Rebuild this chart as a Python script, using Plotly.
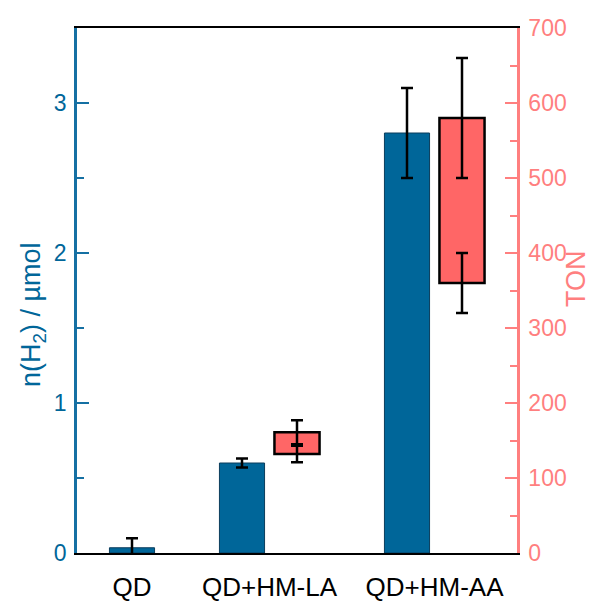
import plotly.graph_objects as go

categories = ["QD", "QD+HM-LA", "QD+HM-AA"]
group_pos = [0.5, 1.75, 3.25]

# n(H2) / µmol
h2_values = [0.035, 0.60, 2.80]
h2_errors = [0.063, 0.03, 0.30]

# TON floating box (only for HM samples)
ton_cats = ["QD+HM-LA", "QD+HM-AA"]
ton_pos = [1.75, 3.25]
ton_low = [132, 360]
ton_low_err = [11, 40]
ton_high = [161, 580]
ton_high_err = [16, 80]

BLUE = "#006699"
BLUE_AX = "#1570a3"
RED = "#ff6666"
RED_AX = "#ff7f7f"
FONT = "Liberation Sans, Arial, sans-serif"

off = 0.25
bw = 0.41

fig = go.Figure()
fig.add_trace(go.Bar(
    x=[p - off if c != "QD" else p for p, c in zip(group_pos, categories)],
    y=h2_values, width=bw,
    marker=dict(color=BLUE, line=dict(color="#0b3d5c", width=1)),
    error_y=dict(type="data", array=h2_errors, color="black", thickness=2.5, width=6),
    yaxis="y", showlegend=False,
))
fig.add_trace(go.Bar(
    x=[p + off for p in ton_pos],
    y=[h - l for h, l in zip(ton_high, ton_low)],
    base=ton_low, width=bw,
    marker=dict(color=RED, line=dict(color="black", width=2.5)),
    yaxis="y2", showlegend=False,
))
fig.add_trace(go.Scatter(
    x=[p + off for p in ton_pos], y=ton_low, mode="markers",
    marker=dict(size=0.1, color="black"),
    error_y=dict(type="data", array=ton_low_err, color="black", thickness=2.5, width=6),
    yaxis="y2", showlegend=False,
))
fig.add_trace(go.Scatter(
    x=[p + off for p in ton_pos], y=ton_high, mode="markers",
    marker=dict(size=0.1, color="black"),
    error_y=dict(type="data", array=ton_high_err, color="black", thickness=2.5, width=6),
    yaxis="y2", showlegend=False,
))

fig.update_layout(
    width=603, height=603,
    margin=dict(l=77, r=86, t=28, b=50, autoexpand=False),
    paper_bgcolor="white", plot_bgcolor="white",
    barmode="overlay",
    font=dict(family=FONT, color="black"),
    xaxis=dict(
        range=[0, 4], tickmode="array", tickvals=group_pos, ticktext=categories,
        showline=True, linecolor="black", linewidth=2, mirror=True,
        ticks="", showgrid=False, zeroline=False, automargin=False,
        tickfont=dict(size=26, color="black"),
        ticklabelstandoff=10,
    ),
    yaxis=dict(
        range=[0, 3.5], tickvals=[0, 1, 2, 3],
        showline=True, linecolor=BLUE_AX, linewidth=2.5,
        ticks="inside", ticklen=12, tickwidth=2, tickcolor=BLUE_AX,
        minor=dict(tickvals=[0.5, 1.5, 2.5], ticks="inside", ticklen=7, tickwidth=2, tickcolor=BLUE_AX),
        showgrid=False, zeroline=False, automargin=False,
        tickfont=dict(size=23, color=BLUE),
        ticklabelstandoff=3,
    ),
    yaxis2=dict(
        range=[0, 700], tickvals=[0, 100, 200, 300, 400, 500, 600, 700],
        overlaying="y", side="right",
        showline=True, linecolor=RED_AX, linewidth=2.5,
        ticks="inside", ticklen=12, tickwidth=2, tickcolor=RED_AX,
        minor=dict(tickvals=[50, 150, 250, 350, 450, 550, 650], ticks="inside", ticklen=7, tickwidth=2, tickcolor=RED_AX),
        showgrid=False, zeroline=False, automargin=False,
        tickfont=dict(size=23, color=RED_AX),
        ticklabelstandoff=4,
    ),
    annotations=[
        dict(text="n(H<sub>2</sub>) / µmol", x=33, y=315, xref="paper", yref="paper",
             xanchor="center", yanchor="middle",
             showarrow=False, textangle=-90, font=dict(size=27, color=BLUE)),
        dict(text="TON", x=576, y=279, xref="paper", yref="paper",
             xanchor="center", yanchor="middle",
             showarrow=False, textangle=-90, font=dict(size=27, color=RED_AX)),
    ],
)

# convert annotation pixel positions to paper coords
W, H = 603, 603
l, r, t, b = 77, 86, 28, 50
pw, ph = W - l - r, H - t - b
for a in fig.layout.annotations:
    px, py = a.x, a.y
    a.x = (px - l) / pw
    a.y = (H - b - py) / ph

fig.write_html("out.html")
